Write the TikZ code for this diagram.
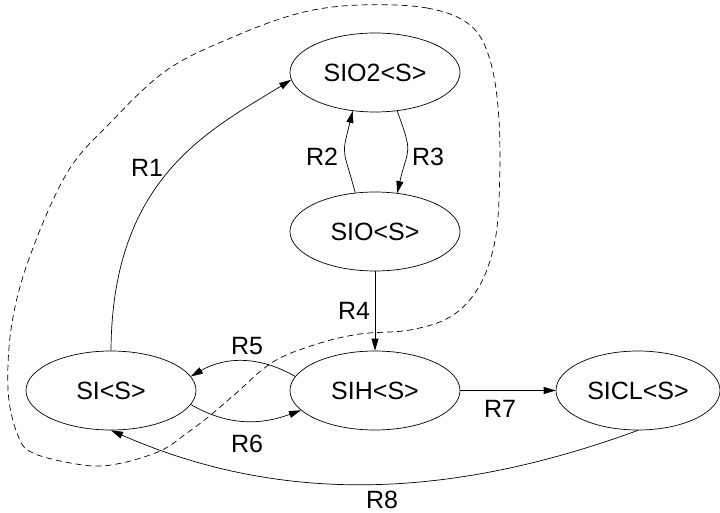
\documentclass[tikz,border=0pt]{standalone}
\usepackage{fontspec}
\setmainfont{Liberation Sans}
\usetikzlibrary{arrows.meta,shapes.geometric}
\begin{document}
\begin{tikzpicture}[x=1pt,y=1pt,
  font=\fontsize{25}{29}\selectfont,
  state/.style={draw, ellipse, line width=0.7pt, inner sep=0pt,
    minimum width=170pt, minimum height=79pt},
  edge/.style={line width=0.7pt, -{Triangle[length=12pt,width=7pt]}},
  lbl/.style={inner sep=0pt},
  region/.style={line width=0.7pt, dash pattern=on 6pt off 4pt}]
\useasboundingbox (0,0) rectangle (720,512);

% species states
\node[state] (SIO2) at (375,439.5) {SIO2<S>};
\node[state] (SIO)  at (375,280.5) {SIO<S>};
\node[state] (SI)   at (111,121.5) {SI<S>};
\node[state] (SIH)  at (375,121.5) {SIH<S>};
\node[state, minimum width=164pt] (SICL) at (638,121.5) {SICL<S>};

% reactions
\draw[edge] (SI.north) .. controls (112,335) and (210,382) .. (SIO2.185);
\draw[edge] (SIO.117) to[out=105,in=256,looseness=1.5] (SIO2.240);
\draw[edge] (SIO2.300) to[out=-70,in=77,looseness=1.5] (SIO.60);
\draw[edge] (SIO.south) -- (SIH.north);
\draw[edge] (SIH.170) to[out=150,in=30] (SI.10);
\draw[edge] (SI.350) to[out=-30,in=200] (SIH.195);
\draw[edge] (SIH.east) -- (SICL.west);
\draw[edge] (SICL.south) .. controls (459.5,16.3) and (288.5,3.9) .. (SI.south);

% reaction labels
\node[lbl] (lR1) at (147,344) {R1};
\node[lbl] (lR2) at (322,355) {R2};
\node[lbl] (lR3) at (428,355) {R3};
\node[lbl] (lR4) at (354,201) {R4};
\node[lbl] (lR5) at (247,166) {R5};
\node[lbl] (lR6) at (247,68) {R6};
\node[lbl] (lR7) at (500,103) {R7};
\node[lbl] (lR8) at (382,12.5) {R8};

% dashed region
\draw[region] plot[smooth cycle, tension=0.6] coordinates {
  (360,507) (427,504) (470,487) (490,452) (499,392) (499,312) (493,262)
  (477,222) (450,195) (410,182) (360,178) (317,168) (273,150) (233,116)
  (207,94) (187,79) (160,61) (117,48) (83,47) (33,59) (17,79) (8,123)
  (12,189) (30,256) (67,339) (110,389) (167,442) (233,475) (300,499)};
\end{tikzpicture}
\end{document}
